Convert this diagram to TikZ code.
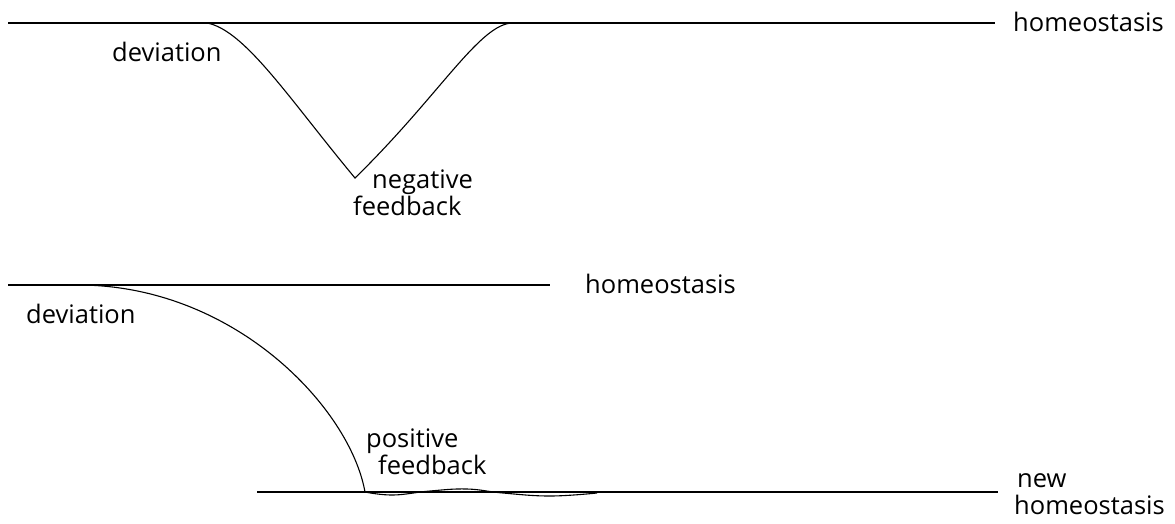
\documentclass[tikz,border=0pt]{standalone}
\usepackage{fontspec}
\setmainfont{Open Sans}
\begin{document}
\begin{tikzpicture}[x=1pt,y=-1pt,
  lbl/.style={font=\fontsize{25.5}{27}\selectfont, inner sep=0pt, anchor=west, align=left},
  base/.style={line width=2.4pt},
  crv/.style={line width=1.1pt}]
\useasboundingbox (0,0) rectangle (1175,523);
% top
\coordinate (t1) at (8,23);
\coordinate (t2) at (995,23);
\coordinate (d1) at (207,23);
\coordinate (v) at (355,178);
\coordinate (d2) at (513,23);
\draw[base] (t1) -- (t2);
\draw[crv] (d1) .. controls (245,30) and (290,100) .. (v) .. controls (440,95) and (480,23) .. (d2);
\node[lbl] (h1) at (1013,22) {homeostasis};
\node[lbl] (dv1) at (112,52) {deviation};
\node[lbl] (nf) at (353,193) {\hspace*{19pt}negative\\feedback};
% bottom
\coordinate (b1) at (8,285);
\coordinate (b2) at (550,285);
\coordinate (c1) at (257,492);
\coordinate (c2) at (998,492);
\coordinate (s) at (80,285);
\coordinate (e) at (365,492);
\draw[base] (b1) -- (b2);
\draw[base] (c1) -- (c2);
\draw[crv] (s) .. controls (235,286) and (350,408) .. (e);
\draw[crv] plot[smooth, tension=0.7] coordinates {(e) (393,495) (430,491) (467,489) (503,493) (550,496) (597,493)};
\node[lbl] (h2) at (585,284) {homeostasis};
\node[lbl] (dv2) at (26,314) {deviation};
\node[lbl] (pf) at (366,452) {positive\\\hspace*{12pt}feedback};
\node[lbl] (nh) at (1014,494) {\hspace*{3pt}new\\homeostasis};
\end{tikzpicture}
\end{document}
